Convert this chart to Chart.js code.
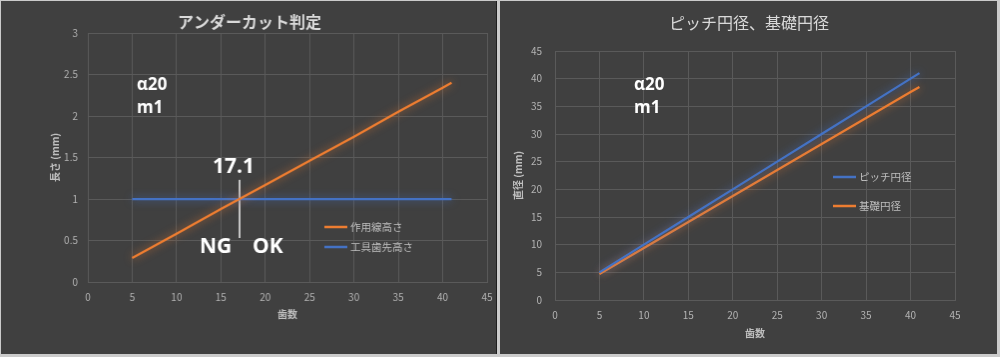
<!DOCTYPE html>
<html><head><meta charset="utf-8">
<script src="https://cdn.jsdelivr.net/npm/chart.js@4/dist/chart.umd.min.js"></script>
<style>
html,body{margin:0;padding:0;background:#cbcbcb;width:1000px;height:357px;overflow:hidden;position:relative}
canvas{position:absolute;background:#404040}
#c1{left:1px;top:1px;border-right:1px solid #1e1e1e}
#c2{left:500px;top:1px}
</style></head><body>
<canvas id="c1" width="496" height="353"></canvas>
<canvas id="c2" width="497" height="353"></canvas>
<script>
// ---- data ----
const teeth = [5, 10, 15, 20, 25, 30, 35, 40, 41];
const actionLineHeight = [0.29, 0.58, 0.88, 1.17, 1.46, 1.75, 2.05, 2.34, 2.40];
const toolTipHeight = [1, 1, 1, 1, 1, 1, 1, 1, 1];
const limitTeeth = [17.1, 17.1];
const limitMarker = [1.23, 0.53];
const pitchDia = [5, 10, 15, 20, 25, 30, 35, 40, 41];
const baseDia = [4.7, 9.4, 14.1, 18.8, 23.5, 28.2, 32.9, 37.6, 38.5];
const xTicks = [0, 5, 10, 15, 20, 25, 30, 35, 40, 45];
const yTicksLeft = [0, 0.5, 1, 1.5, 2, 2.5, 3];
const yTicksRight = [0, 5, 10, 15, 20, 25, 30, 35, 40, 45];

const ORANGE = '#ed7d31', BLUE = '#4472c4';
const JP = '"Noto Sans CJK JP", "Noto Sans", sans-serif';
const pts = (xs, ys) => xs.map((x, i) => ({x, y: ys[i]}));

const glowPlugin = {
  id: 'glow',
  beforeDatasetDraw(chart, args) {
    const ds = chart.data.datasets[args.index];
    if (!ds.glow) return;
    chart.ctx.save();
    chart.ctx.shadowColor = ds.glow;
    chart.ctx.shadowBlur = 8;
  },
  afterDatasetDraw(chart, args) {
    const ds = chart.data.datasets[args.index];
    if (ds.glow) chart.ctx.restore();
  }
};

const textPlugin = {
  id: 'texts',
  afterDraw(chart, args, opts) {
    const ctx = chart.ctx;
    ctx.save();
    ctx.fillStyle = '#d9d9d9';
    ctx.font = opts.titleFont;
    ctx.textAlign = 'center'; ctx.textBaseline = 'middle';
    ctx.fillText(opts.title, opts.titleX, opts.titleY);
    for (const a of opts.notes) {
      ctx.fillStyle = '#ffffff';
      ctx.font = a.font;
      ctx.textAlign = 'left'; ctx.textBaseline = 'middle';
      ctx.fillText(a.text, a.x, a.y);
    }
    ctx.font = '10.5px ' + JP;
    opts.legend.forEach((l, i) => {
      const ds = chart.data.datasets[i];
      ctx.strokeStyle = ds.borderColor; ctx.lineWidth = 2.5;
      ctx.beginPath(); ctx.moveTo(l.x, l.y); ctx.lineTo(l.x + 23, l.y); ctx.stroke();
      ctx.fillStyle = '#bfbfbf'; ctx.textAlign = 'left'; ctx.textBaseline = 'middle';
      ctx.fillText(ds.label, l.x + 26, l.y);
    });
    ctx.restore();
  }
};

function makeScales(yTicks, yMax, yTitle, yWidth, xHeight, yPad) {
  const grid = {color: '#5a5a5a', lineWidth: 1, drawTicks: false};
  return {
    x: {
      type: 'linear', min: 0, max: 45,
      afterBuildTicks: s => { s.ticks = xTicks.map(v => ({value: v})); },
      afterFit: s => { s.height = xHeight; s.paddingLeft = 0; s.paddingRight = 0; },
      grid, border: {color: '#5a5a5a'},
      ticks: {color: '#b3b3b3', font: {size: 10, family: JP}, padding: 9, maxRotation: 0, callback: v => String(v)},
      title: {display: true, text: '歯数', color: '#bfbfbf', font: {size: 10, weight: 'bold', family: JP}, padding: 0}
    },
    y: {
      type: 'linear', min: 0, max: yMax,
      afterBuildTicks: s => { s.ticks = yTicks.map(v => ({value: v})); },
      afterFit: s => { s.width = yWidth; s.paddingTop = 0; s.paddingBottom = 0; },
      grid, border: {color: '#5a5a5a'},
      ticks: {color: '#b3b3b3', font: {size: 10, family: JP}, padding: yPad, callback: v => String(v)},
      title: {display: true, text: yTitle, color: '#bfbfbf', font: {size: 10, weight: 'bold', family: JP}, padding: 0}
    }
  };
}

const common = {
  responsive: false, animation: false, devicePixelRatio: 1,
  plugins: {legend: {display: false}, tooltip: {enabled: false}, title: {display: false}},
  elements: {point: {radius: 0}, line: {tension: 0}}
};

const noteFont = sz => 'bold ' + sz + 'px "Open Sans", sans-serif';

new Chart(document.getElementById('c1'), {
  type: 'scatter',
  data: {datasets: [
    {label: '作用線高さ', data: pts(teeth, actionLineHeight), showLine: true, borderColor: ORANGE, borderWidth: 2.25, glow: 'rgba(237,125,49,0.75)'},
    {label: '工具歯先高さ', data: pts(teeth, toolTipHeight), showLine: true, borderColor: BLUE, borderWidth: 2.25, glow: 'rgba(68,114,196,0.85)'},
    {label: 'limit', data: pts(limitTeeth, limitMarker), showLine: true, borderColor: '#d9d9d9', borderWidth: 1}
  ]},
  options: Object.assign({}, common, {
    layout: {padding: {left: 48, right: 9, top: 32, bottom: 34}},
    scales: makeScales(yTicksLeft, 3, '長さ (mm)', 39, 38, 10),
    plugins: Object.assign({}, common.plugins, {texts: {
      title: 'アンダーカット判定', titleX: 249, titleY: 21, titleFont: 'bold 16px ' + JP,
      notes: [
        {text: 'α20', x: 136, y: 84, font: noteFont(17)},
        {text: 'm1', x: 136, y: 107, font: noteFont(17)},
        {text: '17.1', x: 212, y: 166, font: noteFont(21)},
        {text: 'NG', x: 199, y: 246, font: noteFont(21)},
        {text: 'OK', x: 252, y: 246, font: noteFont(21)}
      ],
      legend: [{x: 324, y: 226}, {x: 324, y: 246}]
    }})
  }),
  plugins: [glowPlugin, textPlugin]
});

new Chart(document.getElementById('c2'), {
  type: 'scatter',
  data: {datasets: [
    {label: 'ピッチ円径', data: pts(teeth, pitchDia), showLine: true, borderColor: BLUE, borderWidth: 2.25, glow: 'rgba(68,114,196,0.85)'},
    {label: '基礎円径', data: pts(teeth, baseDia), showLine: true, borderColor: ORANGE, borderWidth: 2.25, glow: 'rgba(237,125,49,0.75)'}
  ]},
  options: Object.assign({}, common, {
    layout: {padding: {left: 12, right: 42, top: 50, bottom: 15}},
    scales: makeScales(yTicksRight, 45, '直径 (mm)', 43, 39, 13),
    plugins: Object.assign({}, common.plugins, {texts: {
      title: 'ピッチ円径、基礎円径', titleX: 249, titleY: 22, titleFont: '16px ' + JP,
      notes: [
        {text: 'α20', x: 134, y: 84, font: noteFont(17)},
        {text: 'm1', x: 134, y: 107, font: noteFont(17)}
      ],
      legend: [{x: 333, y: 176}, {x: 333, y: 205}]
    }})
  }),
  plugins: [glowPlugin, textPlugin]
});
</script>
</body></html>
